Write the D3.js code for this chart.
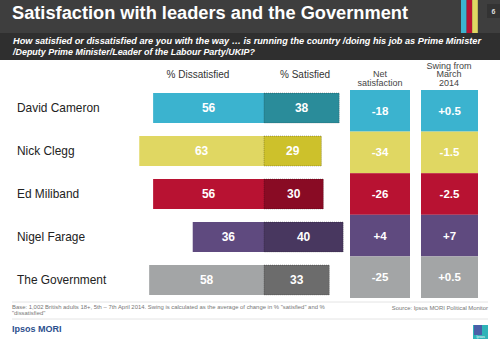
<!DOCTYPE html>
<html>
<head>
<meta charset="utf-8">
<script src="https://cdn.jsdelivr.net/npm/d3@7"></script>
<style>
  body { margin: 0; background: #fff; }
  svg { display: block; font-family: "Liberation Sans", Arial, sans-serif; }
</style>
</head>
<body>
<div id="chart"></div>
<script>
const names = ["David Cameron", "Nick Clegg", "Ed Miliband", "Nigel Farage", "The Government"];
const dissatisfied = [56, 63, 56, 36, 58];
const satisfied = [38, 29, 30, 40, 33];
const netSat = ["-18", "-34", "-26", "+4", "-25"];
const swing = ["+0.5", "-1.5", "-2.5", "+7", "+0.5"];
const lightCols = ["#3bb3cf", "#e0d762", "#b81232", "#5f4a7f", "#a3a5a6"];
const darkCols = ["#2a8c9a", "#cdc12b", "#890b24", "#48375f", "#6c6c6c"];

const rows = names.map((n, i) => ({
  name: n, dis: dissatisfied[i], sat: satisfied[i],
  net: netSat[i], swing: swing[i], light: lightCols[i], dark: darkCols[i]
}));

const width = 500, height = 343;
const svg = d3.select('#chart').append('svg')
  .attr('width', width)
  .attr('height', height);

// header bands
svg.append('rect').attr('x', 0).attr('y', 0).attr('width', width).attr('height', 33).attr('fill', '#3e3e3e');
svg.append('rect').attr('x', 0).attr('y', 33).attr('width', width).attr('height', 27).attr('fill', '#2f2f2f');
['#3bb3cf', '#b81232', '#e0d762'].forEach((c, i) => {
  svg.append('rect').attr('x', 461 + i * 5.6).attr('y', 0).attr('width', 5.6).attr('height', 33).attr('fill', c);
});
svg.append('rect').attr('x', 487).attr('y', 4).attr('width', 13).attr('height', 14).attr('fill', '#333');
svg.append('text').attr('x', 493.5).attr('y', 14).attr('text-anchor', 'middle')
  .attr('fill', '#ddd').attr('font-size', 7).attr('font-weight', 'bold').text('6');

svg.append('text').attr('x', 12).attr('y', 19)
  .attr('fill', '#fff').attr('font-size', 18).attr('font-weight', 'bold')
  .attr('textLength', 396).attr('lengthAdjust', 'spacingAndGlyphs')
  .text('Satisfaction with leaders and the Government');

const sub = svg.append('text').attr('fill', '#fff').attr('font-size', 8.8)
  .attr('font-weight', 'bold').attr('font-style', 'italic');
sub.append('tspan').attr('x', 13).attr('y', 44)
  .attr('textLength', 468).attr('lengthAdjust', 'spacingAndGlyphs')
  .text('How satisfied or dissatisfied are you with the way …  is running the country /doing his job as Prime Minister');
sub.append('tspan').attr('x', 13).attr('y', 55)
  .attr('textLength', 242).attr('lengthAdjust', 'spacingAndGlyphs')
  .text('/Deputy Prime Minister/Leader of the Labour Party/UKIP?');

// scales
const mid = 264;
const x = d3.scaleLinear().domain([0, 100]).range([0, 198]);
const y = d3.scaleBand().domain(names).range([93, 295]).paddingInner(13 / 43).paddingOuter(0);
const yCol = d3.scaleBand().domain(names).range([90, 298]).padding(0);

// column headings
svg.append('text').attr('x', 198).attr('y', 78).attr('text-anchor', 'middle')
  .attr('fill', '#333').attr('font-size', 10).text('% Dissatisfied');
svg.append('text').attr('x', 305).attr('y', 78).attr('text-anchor', 'middle')
  .attr('fill', '#333').attr('font-size', 10).text('% Satisfied');

const netHead = svg.append('text').attr('text-anchor', 'middle').attr('fill', '#444').attr('font-size', 9);
['Net', 'satisfaction'].forEach((t, i) => netHead.append('tspan').attr('x', 380).attr('y', 77 + i * 8.5).text(t));
const swHead = svg.append('text').attr('text-anchor', 'middle').attr('fill', '#444').attr('font-size', 9);
['Swing from', 'March', '2014'].forEach((t, i) => swHead.append('tspan').attr('x', 449).attr('y', 68.5 + i * 8.5).text(t));

const g = svg.selectAll('g.row').data(rows).join('g').attr('class', 'row');

g.append('text')
  .attr('x', 17).attr('y', d => y(d.name) + y.bandwidth() / 2)
  .attr('dy', '0.35em').attr('fill', '#222').attr('font-size', 11.9)
  .text(d => d.name);

g.append('rect')
  .attr('x', d => mid - x(d.dis)).attr('y', d => y(d.name))
  .attr('width', d => x(d.dis)).attr('height', y.bandwidth())
  .attr('fill', d => d.light);

g.append('rect')
  .attr('x', mid).attr('y', d => y(d.name))
  .attr('width', d => x(d.sat)).attr('height', y.bandwidth())
  .attr('fill', d => d.dark)
  .attr('stroke', 'rgba(0,0,0,0.35)').attr('stroke-dasharray', '1,1').attr('stroke-width', 0.8);

g.append('text')
  .attr('x', d => mid - x(d.dis) / 2).attr('y', d => y(d.name) + y.bandwidth() / 2)
  .attr('dy', '0.35em').attr('text-anchor', 'middle')
  .attr('fill', '#fff').attr('font-size', 12).attr('font-weight', 'bold')
  .text(d => d.dis);

g.append('text')
  .attr('x', d => mid + x(d.sat) / 2).attr('y', d => y(d.name) + y.bandwidth() / 2)
  .attr('dy', '0.35em').attr('text-anchor', 'middle')
  .attr('fill', '#fff').attr('font-size', 12).attr('font-weight', 'bold')
  .text(d => d.sat);

// net satisfaction and swing columns
const cols = [{ x0: 350, x1: 410, key: 'net' }, { x0: 421, x1: 478, key: 'swing' }];
cols.forEach(c => {
  g.append('rect')
    .attr('x', c.x0).attr('y', d => yCol(d.name))
    .attr('width', c.x1 - c.x0).attr('height', yCol.bandwidth())
    .attr('fill', d => d.light);
  g.append('text')
    .attr('x', (c.x0 + c.x1) / 2).attr('y', d => yCol(d.name) + yCol.bandwidth() / 2)
    .attr('dy', '0.35em').attr('text-anchor', 'middle')
    .attr('fill', '#fff').attr('font-size', 11.5).attr('font-weight', 'bold')
    .text(d => d[c.key]);
});

// footer
svg.append('line').attr('x1', 12).attr('x2', 488).attr('y1', 302).attr('y2', 302).attr('stroke', '#e4e4e4');
svg.append('line').attr('x1', 12).attr('x2', 488).attr('y1', 319).attr('y2', 319).attr('stroke', '#e4e4e4');
const base = svg.append('text').attr('fill', '#777').attr('font-size', 5.9);
base.append('tspan').attr('x', 12).attr('y', 309)
  .text('Base: 1,002 British adults 18+, 5th – 7th April 2014. Swing is calculated as the average of change in % "satisfied" and %');
base.append('tspan').attr('x', 12).attr('y', 315).text('"dissatisfied"');
svg.append('text').attr('x', 488).attr('y', 310).attr('text-anchor', 'end')
  .attr('fill', '#777').attr('font-size', 5.9).text('Source: Ipsos MORI Political Monitor');

svg.append('text').attr('x', 12).attr('y', 332).attr('fill', '#2c4f8e')
  .attr('font-size', 9).attr('font-weight', 'bold').text('Ipsos MORI');
svg.append('rect').attr('x', 473).attr('y', 325).attr('width', 15).attr('height', 14).attr('fill', '#2fb3b8');
svg.append('rect').attr('x', 474).attr('y', 325).attr('width', 8).attr('height', 10).attr('fill', '#4a5fa8');
svg.append('text').attr('x', 480.5).attr('y', 337.5).attr('text-anchor', 'middle')
  .attr('fill', '#fff').attr('font-size', 3.5).text('Ipsos');
</script>
</body>
</html>
